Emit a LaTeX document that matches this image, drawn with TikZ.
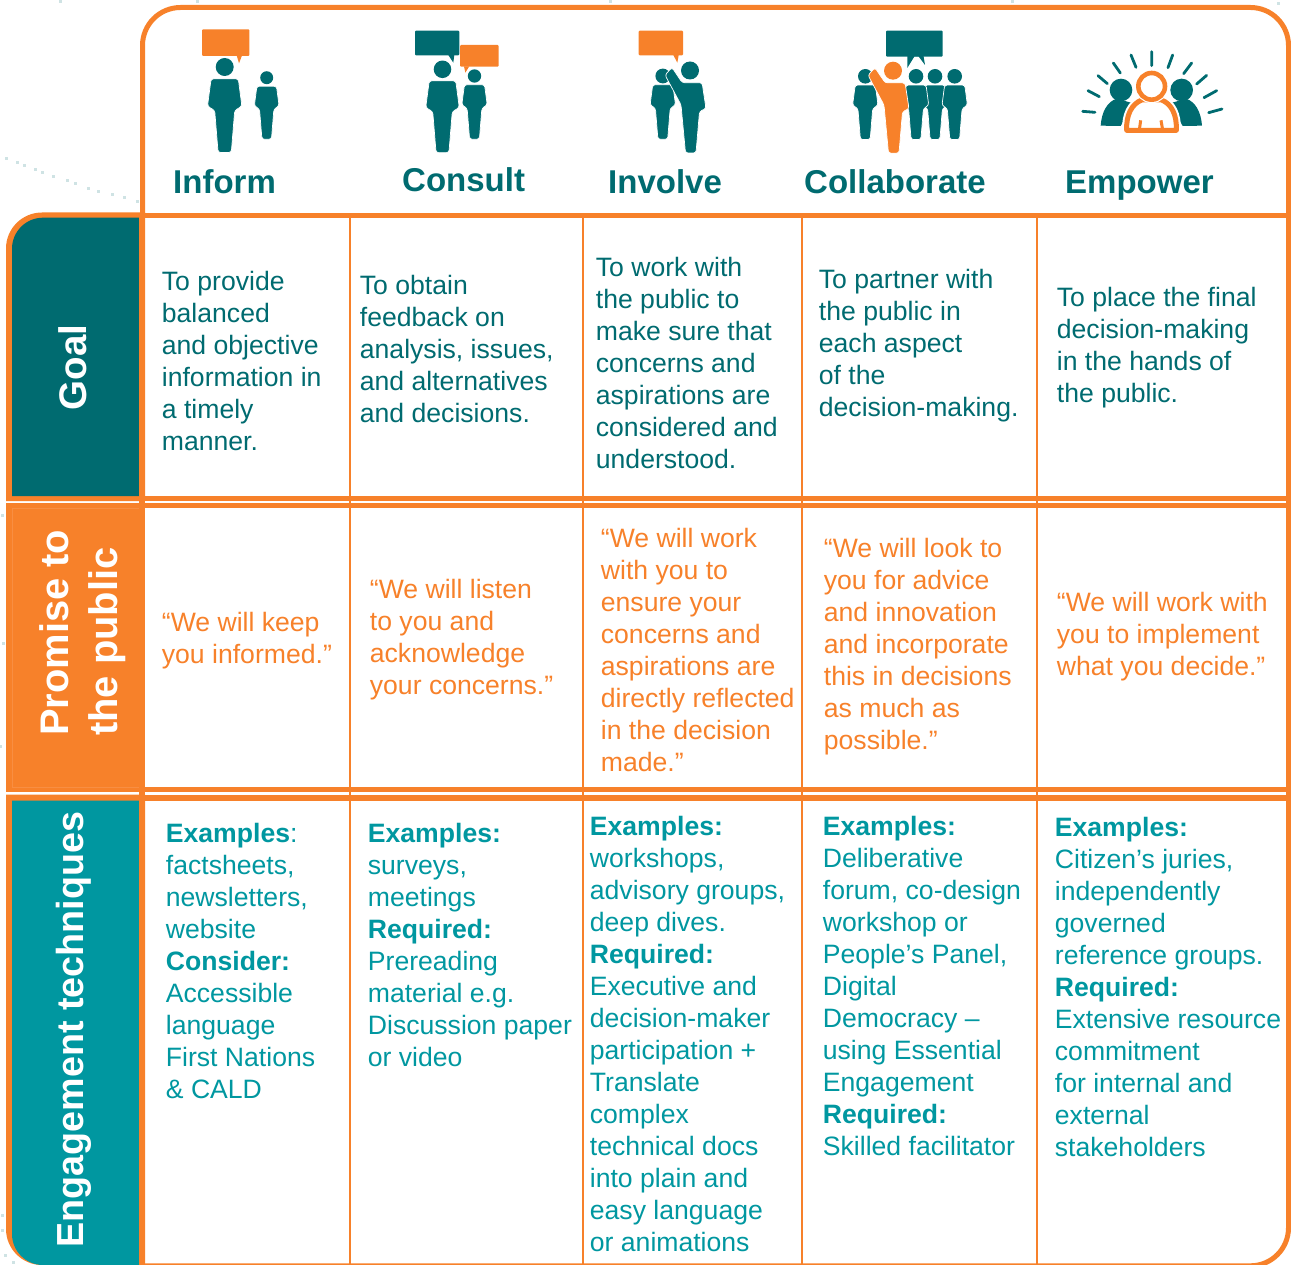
\documentclass[tikz,border=0pt]{standalone}
\usepackage{fontspec}
\setmainfont{Liberation Sans}
\definecolor{org}{HTML}{F7812A}
\definecolor{orglight}{HTML}{F88E42}
\definecolor{teal1}{HTML}{006B70}
\definecolor{teal2}{HTML}{0097A0}
\definecolor{speck}{HTML}{CFE3E4}
\tikzset{
  cellstyle/.style={anchor=north west,inner sep=0pt,align=left,font=\fontsize{26.6}{32}\selectfont},
  headstyle/.style={anchor=base west,inner sep=0pt,text=teal1,font=\fontsize{33}{36}\selectfont\bfseries},
  sidestyle/.style={anchor=base,inner sep=0pt,text=white,rotate=90,font=\fontsize{37.7}{40}\selectfont\bfseries},
  figedge/.style={draw=white,line width=0.7pt,rounded corners=2.5pt},
  bubble/.style={rounded corners=1pt}
}
\newcommand\cellT[5]{\node[cellstyle,text=#4] (#1) at (#2-0.3,{#3-16}) {\rule{0pt}{25pt}#5};}
\newcommand\person[4]{\begin{scope}[shift={(#1,#2)},scale=#3]
  \fill[#4] (0,0) circle[radius=9];
  \filldraw[fill=#4,figedge] (-13.6,11.8) -- (13.6,11.8) -- (17.2,39.2) -- (10,43.5) -- (6.6,85.5) -- (-6.6,85.5) -- (-10,43.5) -- (-17.2,39.2) -- cycle;
\end{scope}}
\newcommand\raised[3]{\begin{scope}[shift={(#1,#2)}]
  \fill[#3] (0,0) circle[radius=9];
  \filldraw[fill=#3,figedge] (-25,4.5) -- (-18,-3) -- (-7.8,12.2) -- (12.1,12.2) -- (16,38) -- (9.5,41) -- (6,82.5) -- (-4.5,82.5) -- (-9,34.3) -- cycle;
\end{scope}}
\begin{document}
\begin{tikzpicture}[x=1pt,y=-1pt]
\useasboundingbox (0,0) rectangle (1291,1265);
% faint specks
\foreach \a/\b in {6/159,17/163,24/166,35/170,42/173,53/177,67/181,75/184,88/189,98/192,112/195,124/198,137/202,197/2,610/2,1012/2,1278/4,60/2,2/515,3/643,0/746,2/1215,2/1230,5/1255,13/1262}
  \fill[speck] (\a-1.5,\b-1.5) rectangle +(3,3);
% header frame
\draw[org,line width=5pt,rounded corners=38pt] (142.5,215) -- (142.5,7.5) -- (1288.5,7.5) -- (1288.5,1265.8) [sharp corners] -- (142.5,1265.8);
% side tabs
\fill[org] (6,501) [rounded corners=36pt] -- (6,212.5) [sharp corners] -- (145,212.5) -- (145,501) -- cycle;
\fill[teal1] (12,496) [rounded corners=31pt] -- (12,217.7) [sharp corners] -- (139.3,217.7) -- (139.3,496) -- cycle;
\fill[org] (6,503.3) rectangle (145,792);
\draw[orglight,line width=0.6pt] (12,508) rectangle (139,787);
\fill[org] (6,794.6) -- (145,794.6) -- (145,1265) -- (45,1265) [rounded corners=36pt] -- (6,1265) [sharp corners] -- (6,1200) -- cycle;
\fill[teal2] (12,800.5) -- (139.3,800.5) -- (139.3,1265) -- (45,1265) [rounded corners=31pt] -- (12,1265) [sharp corners] -- (12,1200) -- cycle;
% horizontal bands
\fill[org] (145,212.7) rectangle (1291,217.7);
\fill[org] (145,496) rectangle (1291,501);
\fill[org] (145,503.3) rectangle (1291,508);
\fill[org] (145,787) rectangle (1291,792);
\fill[org] (145,794.6) rectangle (1291,800.5);
\fill[org] (139.3,212.7) rectangle (145,1265);
% column separators
\foreach \c in {350,583,802,1037} \fill[org] (\c-1.3,215) rectangle (\c+1.3,1265);
% ---- icons
% Inform
\fill[org,bubble] (202,29.3) rectangle (249.3,56);
\fill[org] (236.7,55.5) -- (242,55.5) -- (239,63.3) -- cycle;
\person{224.7}{67}{1}{teal1}
\person{266.7}{77.7}{0.72}{teal1}
% Consult
\fill[teal1,bubble] (415,30.7) rectangle (459.3,55.3);
\fill[teal1] (448.3,55) -- (454.3,55) -- (453.3,62.7) -- cycle;
\fill[org,bubble] (460,45) rectangle (498.7,66.7);
\fill[org] (464,66.3) -- (469.3,66.3) -- (465.3,72.7) -- cycle;
\person{442.5}{69.3}{0.975}{teal1}
\person{474.5}{76}{0.74}{teal1}
% Involve
\fill[org,bubble] (638.7,30.7) rectangle (683,55.3);
\fill[org] (673.3,55) -- (678.7,55) -- (677.3,62.7) -- cycle;
\person{662.8}{76}{0.74}{teal1}
\fill[teal1] (662.8,76) circle[radius=7.4];
\raised{690}{70.5}{teal1}
% Collaborate
\fill[teal1,bubble] (886,30.7) rectangle (942.7,56.7);
\fill[teal1] (907.3,56) -- (907.3,68) -- (914.5,56.3) -- (918.5,56.3) -- (925,65) -- (923.5,56) -- cycle;
\person{935}{76.3}{0.74}{teal1}
\person{916}{76.3}{0.74}{teal1}
\person{954.7}{76.3}{0.74}{teal1}
\person{865.3}{76.3}{0.74}{teal1}
\fill[teal1] (916,76.3) circle[radius=7.3] (935,76.3) circle[radius=7.3] (954.7,76.3) circle[radius=7.3] (865.3,76.3) circle[radius=7.3];
\raised{893}{70.7}{org}
% Empower
\begin{scope}[shift={(1000,0)},x=0.33333pt,y=-0.33333pt]
  \draw[teal1,line width=2.8pt,line cap=round]
    (248,334)--(285,337) (264,272)--(298,290) (294,227)--(322,251) (340,189)--(361,219)
    (393,165)--(408,202) (455,155)--(455,197) (518,165)--(504,203) (575,189)--(551,221)
    (620,226)--(590,252) (650,272)--(612,293) (666,327)--(626,338);
  \fill[teal1] (363,270) circle[radius=34] (545,270) circle[radius=34];
  \fill[teal1] (302,377) .. controls (305,335) and (322,305) .. (350,296) -- (400,310) -- (362,378) -- cycle;
  \fill[teal1] (606,377) .. controls (603,335) and (586,305) .. (558,296) -- (510,310) -- (548,378) -- cycle;
  \draw[white,line width=9pt,line join=round,fill=white] (380,391) .. controls (378,345) and (395,312) .. (425,300) -- (485,300) .. controls (515,312) and (531,345) .. (529,391) -- cycle;
  \draw[org,line width=5pt,line join=round,fill=white] (380,391) .. controls (378,345) and (395,312) .. (425,300) -- (485,300) .. controls (515,312) and (531,345) .. (529,391) -- cycle;
  \draw[org,line width=3pt] (422,361) -- (418,390) (483,361) -- (488,390);
  \draw[white,line width=7pt] (455,259) circle[radius=40];
  \draw[org,line width=4.6pt,fill=white] (455,259) circle[radius=40];
\end{scope}
% ---- headers
\node[headstyle] (hInform) at (173,194) {Inform};
\node[headstyle] (hConsult) at (402,191.5) {Consult};
\node[headstyle] (hInvolve) at (608,194) {Involve};
\node[headstyle] (hCollab) at (804,194) {Collaborate};
\node[headstyle] (hEmpower) at (1065,194) {Empower};
% ---- side labels
\node[sidestyle,font=\fontsize{38.5}{40}\selectfont\bfseries] (sGoal) at (86.7,367.5) {Goal};
\node[anchor=north west,inner sep=0pt,text=white,rotate=90,align=left,font=\fontsize{39.9}{49}\selectfont\bfseries] (sPromise) at (37,736) {\rule{0pt}{31pt}Promise to\\the public};
\node[sidestyle] (sEng) at (83.5,1029.5) {Engagement techniques};
% ---- goal row
\cellT{g1}{162}{281}{teal1}{To provide\\balanced\\and objective\\information in\\a timely\\manner.}
\cellT{g2}{360}{285}{teal1}{To obtain\\feedback on\\analysis, issues,\\and alternatives\\and decisions.}
\cellT{g3}{596}{267}{teal1}{To work with\\the public to\\make sure that\\concerns and\\aspirations are\\considered and\\understood.}
\cellT{g4}{819}{279}{teal1}{To partner with\\the public in\\each aspect\\of the\\decision-making.}
\cellT{g5}{1057}{297}{teal1}{To place the final\\decision-making\\in the hands of\\the public.}
% ---- promise row
\cellT{p1}{162}{622}{org}{“We will keep\\you informed.”}
\cellT{p2}{370}{589}{org}{“We will listen\\to you and\\acknowledge\\your concerns.”}
\cellT{p3}{601}{538}{org}{“We will work\\with you to\\ensure your\\concerns and\\aspirations are\\directly reflected\\in the decision\\made.”}
\cellT{p4}{824}{548}{org}{“We will look to\\you for advice\\and innovation\\and incorporate\\this in decisions\\as much as\\possible.”}
\cellT{p5}{1057}{602}{org}{“We will work with\\you to implement\\what you decide.”}
% ---- engagement row
\cellT{e1}{166}{833}{teal2}{\textbf{Examples}:\\factsheets,\\newsletters,\\website\\\textbf{Consider:}\\Accessible\\language\\First Nations\\\& CALD}
\cellT{e2}{368}{833}{teal2}{\textbf{Examples:}\\surveys,\\meetings\\\textbf{Required:}\\Prereading\\material e.g.\\Discussion paper\\or video}
\cellT{e3}{590}{826}{teal2}{\textbf{Examples:}\\workshops,\\advisory groups,\\deep dives.\\\textbf{Required:}\\Executive and\\decision-maker\\participation +\\Translate\\complex\\technical docs\\into plain and\\easy language\\or animations}
\cellT{e4}{823}{826}{teal2}{\textbf{Examples:}\\Deliberative\\forum, co-design\\workshop or\\People’s Panel,\\Digital\\Democracy –\\using Essential\\Engagement\\\textbf{Required:}\\Skilled facilitator}
\cellT{e5}{1055}{827}{teal2}{\textbf{Examples:}\\Citizen’s juries,\\independently\\governed\\reference groups.\\\textbf{Required:}\\Extensive resource\\commitment\\for internal and\\external\\stakeholders}
\end{tikzpicture}
\end{document}
